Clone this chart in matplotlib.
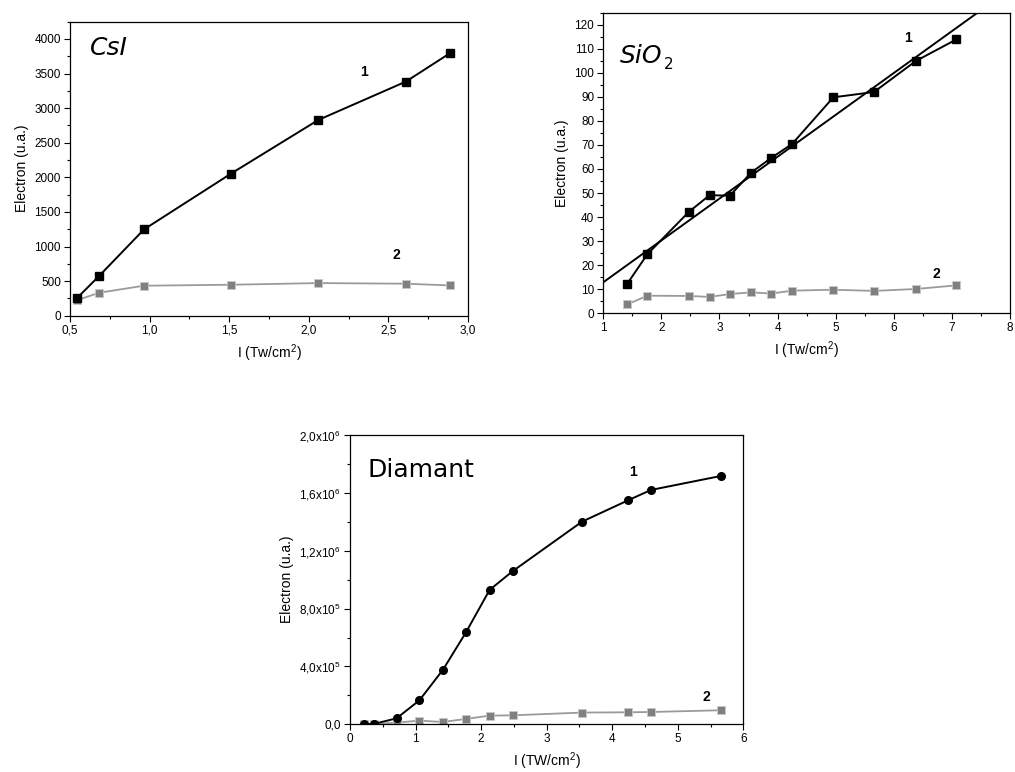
import matplotlib
matplotlib.use("Agg")
import matplotlib.pyplot as plt
from matplotlib.ticker import MultipleLocator, FuncFormatter
import numpy as np

plt.rcParams['font.family'] = ['Liberation Sans', 'DejaVu Sans']
plt.rcParams['mathtext.default'] = 'regular'

# --- CsI ---
csi_x = [0.546, 0.684, 0.965, 1.511, 2.06, 2.61, 2.887]
csi_1 = [260, 578, 1248, 2053, 2829, 3383, 3793]
csi_2 = [226, 333, 434, 448, 472, 463, 438]

# --- SiO2 ---
sio_x = [1.41, 1.76, 2.47, 2.83, 3.18, 3.54, 3.89, 4.25, 4.96, 5.66, 6.38, 7.08]
sio_1 = [12.2, 24.6, 42.1, 49.1, 48.9, 58.4, 64.6, 70.4, 89.8, 92.0, 104.9, 113.9]
sio_2 = [3.7, 7.3, 7.2, 6.8, 8.0, 8.7, 8.2, 9.4, 9.8, 9.3, 10.1, 11.6]

# --- Diamant ---
dia_x = [0.21, 0.36, 0.71, 1.06, 1.42, 1.77, 2.13, 2.48, 3.54, 4.24, 4.59, 5.66]
dia_1 = [0.002e6, 0.002e6, 0.041e6, 0.166e6, 0.378e6, 0.636e6, 0.929e6, 1.058e6,
         1.401e6, 1.548e6, 1.620e6, 1.717e6]
dia_2 = [0.001e6, 0.001e6, 0.012e6, 0.025e6, 0.016e6, 0.037e6, 0.060e6, 0.062e6,
         0.081e6, 0.083e6, 0.085e6, 0.097e6]

BLACK = 'black'
GRAY_M = '#808080'
GRAY_L = '#9a9a9a'
TS = 8.5
LS = 10

fig = plt.figure(figsize=(10.15, 7.72), dpi=100)


def style(ax):
    ax.tick_params(which='both', direction='out', labelsize=TS, top=False, right=False)
    ax.tick_params(which='major', length=4, width=0.8, pad=2.5)
    ax.tick_params(which='minor', length=2.5, width=0.8)
    for s in ax.spines.values():
        s.set_linewidth(0.9)


def comma(fmt):
    return FuncFormatter(lambda v, p: (fmt % v).replace('.', ','))


def sci(v, p):
    if v == 0:
        return '0,0'
    e = int(np.floor(np.log10(abs(v))))
    m = ('%.1f' % (v / 10 ** e)).replace('.', ',')
    return m + 'x$10^{%d}$' % e


def series(ax, x, y1, y2, m1='s'):
    ax.plot(x, y1, '-', color=BLACK, lw=1.4, marker=m1, ms=5.5, mfc=BLACK,
            mec=BLACK, zorder=3)
    ax.plot(x, y2, '-', color=GRAY_L, lw=1.3, marker='s', ms=5.5, mfc=GRAY_M,
            mec='#c8c8c8', mew=0.6, zorder=2)


# CsI panel
ax1 = fig.add_axes([0.069, 0.591, 0.392, 0.381])
series(ax1, csi_x, csi_1, csi_2)
ax1.set_xlim(0.5, 3.0)
ax1.set_ylim(0, 4250)
ax1.xaxis.set_major_locator(MultipleLocator(0.5))
ax1.xaxis.set_minor_locator(MultipleLocator(0.25))
ax1.yaxis.set_major_locator(MultipleLocator(500))
ax1.yaxis.set_minor_locator(MultipleLocator(250))
ax1.xaxis.set_major_formatter(comma('%.1f'))
style(ax1)
ax1.set_xlabel('I (Tw/cm$^2$)', fontsize=LS)
ax1.set_ylabel('Electron (u.a.)', fontsize=LS)
ax1.text(2.35, 3527, '1', fontsize=LS, fontweight='bold', ha='center', va='center')
ax1.text(2.55, 877, '2', fontsize=LS, fontweight='bold', ha='center', va='center')
ax1.text(0.05, 0.91, 'CsI', transform=ax1.transAxes, fontsize=18,
         family='DejaVu Sans', style='italic', ha='left', va='center')

# SiO2 panel
ax2 = fig.add_axes([0.5944, 0.5942, 0.4006, 0.3894])
series(ax2, sio_x, sio_1, sio_2)
k, b = np.polyfit(sio_x, sio_1, 1)
fx = np.array([1.0, 8.0])
ax2.plot(fx, k * fx + b, '-', color=BLACK, lw=1.4, zorder=2.5)
ax2.set_xlim(1, 8)
ax2.set_ylim(0, 125)
ax2.xaxis.set_major_locator(MultipleLocator(1))
ax2.xaxis.set_minor_locator(MultipleLocator(0.5))
ax2.yaxis.set_major_locator(MultipleLocator(10))
ax2.yaxis.set_minor_locator(MultipleLocator(5))
style(ax2)
ax2.set_xlabel('I (Tw/cm$^2$)', fontsize=LS)
ax2.set_ylabel('Electron (u.a.)', fontsize=LS)
ax2.text(6.24, 114.3, '1', fontsize=LS, fontweight='bold', ha='center', va='center')
ax2.text(6.73, 16.3, '2', fontsize=LS, fontweight='bold', ha='center', va='center')
ax2.text(0.04, 0.855, 'SiO', transform=ax2.transAxes, fontsize=18,
         family='DejaVu Sans', style='italic', ha='left', va='center')
ax2.text(0.148, 0.826, '2', transform=ax2.transAxes, fontsize=11,
         family='DejaVu Sans', ha='left', va='center')

# Diamant panel
ax3 = fig.add_axes([0.3448, 0.0618, 0.3875, 0.3747])
series(ax3, dia_x, dia_1, dia_2, m1='o')
ax3.set_xlim(0, 6)
ax3.set_ylim(0, 2.0e6)
ax3.xaxis.set_major_locator(MultipleLocator(1))
ax3.xaxis.set_minor_locator(MultipleLocator(0.5))
ax3.yaxis.set_major_locator(MultipleLocator(4e5))
ax3.yaxis.set_minor_locator(MultipleLocator(2e5))
ax3.yaxis.set_major_formatter(FuncFormatter(sci))
style(ax3)
ax3.set_xlabel('I (TW/cm$^2$)', fontsize=LS)
ax3.set_ylabel('Electron (u.a.)', fontsize=LS)
ax3.text(4.32, 1.746e6, '1', fontsize=LS, fontweight='bold', ha='center', va='center')
ax3.text(5.43, 0.187e6, '2', fontsize=LS, fontweight='bold', ha='center', va='center')
ax3.text(0.045, 0.88, 'Diamant', transform=ax3.transAxes, fontsize=18,
         family='DejaVu Sans', ha='left', va='center')

plt.savefig('out.png', dpi=100)
